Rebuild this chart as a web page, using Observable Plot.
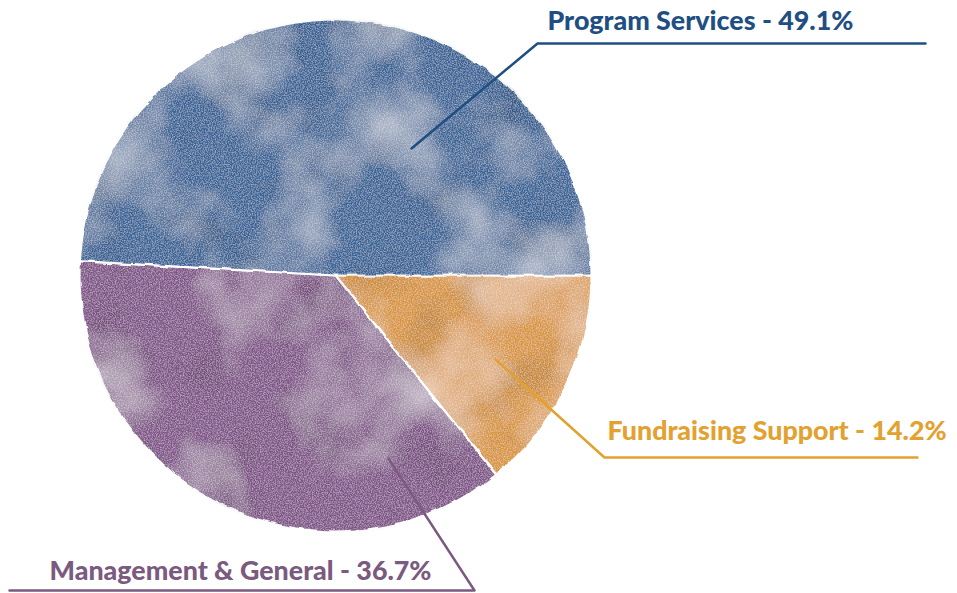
<!DOCTYPE html>
<html>
<head>
<meta charset="utf-8">
<script src="https://cdn.jsdelivr.net/npm/d3@7"></script>
<script src="https://cdn.jsdelivr.net/npm/@observablehq/plot@0.6"></script>
<style>
  html, body { margin: 0; padding: 0; background: #ffffff; }
  #chart { width: 957px; height: 593px; }
</style>
</head>
<body>
<div id="chart"></div>
<script>
// ---- data ----
const categories = ["Fundraising Support", "Management & General", "Program Services"];
const values = [14.2, 36.7, 49.1];
const sliceColors = ["#d9973f", "#82568a", "#3a6699"];
const labelColors = ["#e3a12f", "#7b5a80", "#1f4f82"];

// ---- layout (annotation geometry, not data) ----
const W = 957, H = 593;
const cx = 335, cy = 275, R = 256;
const leaderStart = [[495, 359], [388, 458], [411, 148]];
const leaderCorner = [[604, 457], [474, 590], [537, 43]];
const leaderEndX = [917, 9, 925];
const labelPos = [[607, 431], [49, 571], [547, 21]];
const fontSize = 26.8;

// ---- build slices from data through d3.pie ----
const pie = d3.pie().sort(null).value(d => d.value)
  .startAngle(Math.PI / 2).endAngle(Math.PI / 2 + 2 * Math.PI);
const rows = categories.map((name, i) => ({name, value: values[i], i}));
const arcs = pie(rows);
const slicePts = [];
for (const a of arcs) {
  slicePts.push({name: a.data.name, x: cx, y: cy});
  const n = Math.max(8, Math.ceil((a.endAngle - a.startAngle) * 60));
  for (let k = 0; k <= n; k++) {
    const t = a.startAngle + (a.endAngle - a.startAngle) * k / n;
    slicePts.push({name: a.data.name, x: cx + R * Math.sin(t), y: cy - R * Math.cos(t)});
  }
}

const leaderPts = [];
rows.forEach((r, i) => {
  leaderPts.push({name: r.name, x: leaderStart[i][0], y: leaderStart[i][1]});
  leaderPts.push({name: r.name, x: leaderCorner[i][0], y: leaderCorner[i][1]});
  leaderPts.push({name: r.name, x: leaderEndX[i], y: leaderCorner[i][1]});
});

const labelRows = rows.map((r, i) => ({
  name: r.name,
  text: `${r.name} - ${r.value}%`,
  x: labelPos[i][0], y: labelPos[i][1]
}));

const plot = Plot.plot({
  width: W, height: H,
  margin: 0,
  x: {type: "identity", axis: null},
  y: {type: "identity", axis: null},
  color: {domain: categories, range: sliceColors},
  style: {background: "white"},
  marks: [
    Plot.line(slicePts, {
      x: "x", y: "y", z: "name", fill: "name",
      stroke: "white", strokeWidth: 2.2, strokeLinejoin: "round",
      curve: "linear-closed", className: "slices"
    }),
    Plot.line(leaderPts, {
      x: "x", y: "y", z: "name",
      stroke: d => labelColors[categories.indexOf(d.name)],
      strokeWidth: 2.5, strokeLinejoin: "round", strokeLinecap: "round"
    }),
    Plot.text(labelRows, {
      x: "x", y: "y", text: "text",
      fill: d => labelColors[categories.indexOf(d.name)],
      textAnchor: "start", lineAnchor: "middle",
      fontSize: fontSize, fontWeight: 900,
      fontFamily: "Lato, 'DejaVu Sans', sans-serif"
    })
  ]
});

document.getElementById("chart").appendChild(plot);

// watercolour texture filter
const svg = d3.select(plot);
const defs = svg.insert("defs", ":first-child");
const f = defs.append("filter").attr("id", "wc")
  .attr("x", "-5%").attr("y", "-5%").attr("width", "110%").attr("height", "110%");
f.append("feTurbulence").attr("type", "fractalNoise").attr("baseFrequency", 0.05)
  .attr("numOctaves", 3).attr("seed", 2).attr("result", "en");
f.append("feDisplacementMap").attr("in", "SourceGraphic").attr("in2", "en")
  .attr("scale", 4).attr("xChannelSelector", "R").attr("yChannelSelector", "G").attr("result", "src");
// soft large light patches
f.append("feTurbulence").attr("type", "fractalNoise").attr("baseFrequency", 0.009)
  .attr("numOctaves", 4).attr("seed", 7).attr("result", "n1");
f.append("feColorMatrix").attr("in", "n1").attr("type", "matrix")
  .attr("values", "0 0 0 0 1  0 0 0 0 1  0 0 0 0 1  1.1 0 0 0 -0.5").attr("result", "w1");
// fine grain
f.append("feTurbulence").attr("type", "fractalNoise").attr("baseFrequency", 0.75)
  .attr("numOctaves", 2).attr("seed", 3).attr("result", "n2");
f.append("feColorMatrix").attr("in", "n2").attr("type", "matrix")
  .attr("values", "0 0 0 0 1  0 0 0 0 1  0 0 0 0 1  0.7 0 0 0 -0.27").attr("result", "w2");
// darker pigment pooling
f.append("feTurbulence").attr("type", "fractalNoise").attr("baseFrequency", 0.015)
  .attr("numOctaves", 3).attr("seed", 11).attr("result", "n3");
f.append("feColorMatrix").attr("in", "n3").attr("type", "matrix")
  .attr("values", "0 0 0 0 0  0 0 0 0 0  0 0 0 0 0  0.6 0 0 0 -0.3").attr("result", "d1");
const m = f.append("feMerge").attr("result", "over");
m.append("feMergeNode").attr("in", "d1");
m.append("feMergeNode").attr("in", "w1");
m.append("feMergeNode").attr("in", "w2");
f.append("feComposite").attr("in", "over").attr("in2", "src").attr("operator", "in").attr("result", "tex");
const m2 = f.append("feMerge");
m2.append("feMergeNode").attr("in", "src");
m2.append("feMergeNode").attr("in", "tex");
svg.select("g.slices").attr("filter", "url(#wc)");
</script>
</body>
</html>
